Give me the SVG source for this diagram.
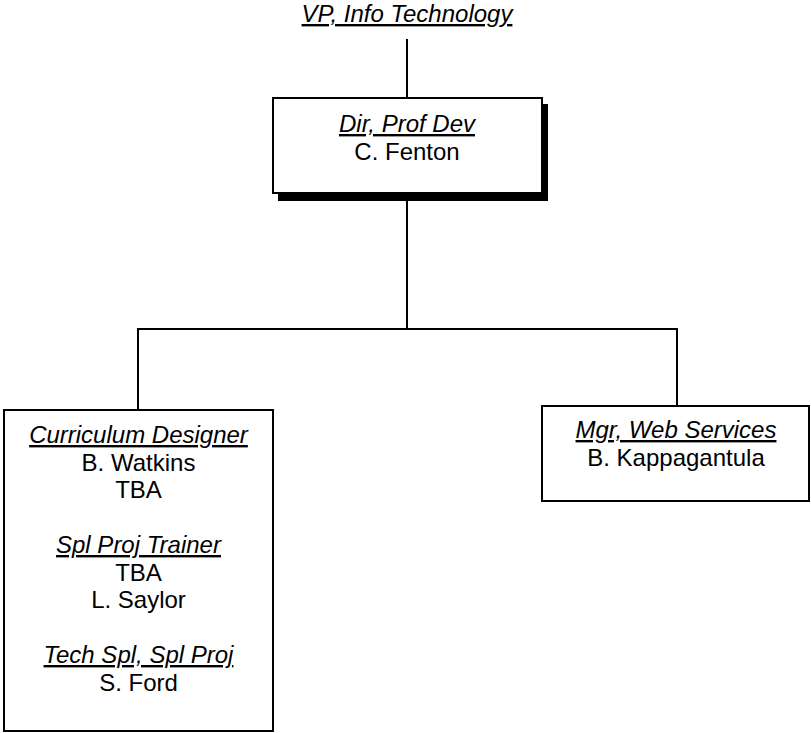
<svg xmlns="http://www.w3.org/2000/svg" width="811" height="733" viewBox="0 0 811 733">
<style>
text{font-family:"Liberation Sans",Arial,sans-serif;font-size:24px;fill:#000;text-anchor:middle}
.t{font-style:italic;text-decoration:underline}
.box{fill:#fff;stroke:#000;stroke-width:2}
.c{stroke:#000;stroke-width:2;fill:none}
</style>
<rect width="811" height="733" fill="#fff"/>
<g id="connectors">
<line class="c" x1="407" y1="39" x2="407" y2="98"/>
<line class="c" x1="407" y1="200" x2="407" y2="329"/>
<polyline class="c" points="138,410 138,329 677,329 677,406"/>
</g>
<g id="vp">
<text class="t" x="407" y="22">VP, Info Technology</text>
</g>
<g id="dir">
<rect x="278" y="104" width="270" height="97" fill="#000"/>
<rect class="box" x="273" y="98" width="269" height="95"/>
<text class="t" x="407" y="132">Dir, Prof Dev</text>
<text x="407" y="159.5">C. Fenton</text>
</g>
<g id="curriculum">
<rect class="box" x="4" y="410" width="269" height="321"/>
<text class="t" x="138.5" y="443">Curriculum Designer</text>
<text x="138.5" y="470.5">B. Watkins</text>
<text x="138.5" y="498">TBA</text>
<text class="t" x="138.5" y="553">Spl Proj Trainer</text>
<text x="138.5" y="580.5">TBA</text>
<text x="138.5" y="608">L. Saylor</text>
<text class="t" x="138.5" y="663">Tech Spl, Spl Proj</text>
<text x="138.5" y="690.5">S. Ford</text>
</g>
<g id="web">
<rect class="box" x="542" y="406" width="267" height="95"/>
<text class="t" x="676" y="438">Mgr, Web Services</text>
<text x="676" y="465.5">B. Kappagantula</text>
</g>
</svg>
